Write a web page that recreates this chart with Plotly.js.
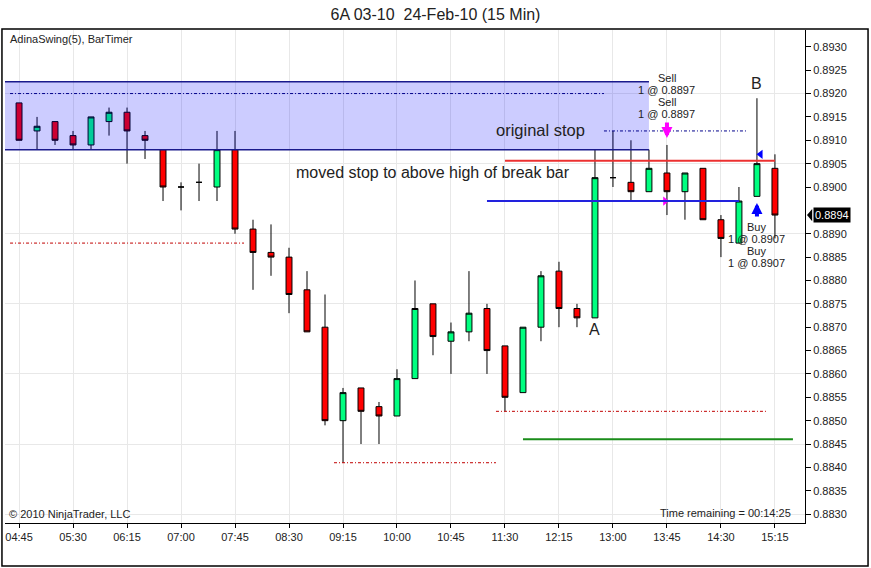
<!DOCTYPE html>
<html>
<head>
<meta charset="utf-8">
<script src="https://cdn.plot.ly/plotly-3.0.1.min.js"></script>
<style>html,body{margin:0;padding:0;background:#fff;}#chart{width:871px;height:568px;}</style>
</head>
<body>
<div id="chart"></div>
<script>
// ---- data ----
const barTimes = ['04:45','05:00','05:15','05:30','05:45','06:00','06:15','06:30','06:45','07:00','07:15','07:30','07:45','08:00','08:15','08:30','08:45','09:00','09:15','09:30','09:45','10:00','10:15','10:30','10:45','11:00','11:15','11:30','11:45','12:00','12:15','12:30','12:45','13:00','13:15','13:30','13:45','14:00','14:15','14:30','14:45','15:00','15:15'];
const tickLabels = ['04:45','05:30','06:15','07:00','07:45','08:30','09:15','10:00','10:45','11:30','12:15','13:00','13:45','14:30','15:15'];
const openP  = [0.8918,0.8912,0.8914,0.8911,0.8909,0.8914,0.8916,0.8911,0.8908,0.8900,0.8901,0.8900,0.8908,0.8891,0.8886,0.8885,0.8878,0.8870,0.8850,0.8857,0.8853,0.8851,0.8859,0.8875,0.8867,0.8869,0.8874,0.8866,0.8856,0.8870,0.8882,0.8874,0.8872,0.8902,0.8901,0.8899,0.8903,0.8899,0.8904,0.8893,0.8888,0.8898,0.8904];
const highP  = [0.8918,0.8915,0.8914,0.8912,0.8915,0.8917,0.8917,0.8912,0.8908,0.8901,0.8905,0.8912,0.8912,0.8893,0.8892,0.8887,0.8882,0.8877,0.8857,0.8857,0.8854,0.8861,0.8880,0.8875,0.8871,0.8882,0.8875,0.8866,0.8870,0.8882,0.8884,0.8875,0.8908,0.8912,0.8910,0.8908,0.8909,0.8903,0.8904,0.8894,0.8900,0.8919,0.8907];
const lowP   = [0.8910,0.8908,0.8909,0.8908,0.8908,0.8911,0.8905,0.8906,0.8897,0.8895,0.8897,0.8897,0.8890,0.8878,0.8881,0.8873,0.8869,0.8849,0.8841,0.8845,0.8845,0.8851,0.8859,0.8864,0.8860,0.8867,0.8860,0.8852,0.8856,0.8867,0.8870,0.8870,0.8872,0.8900,0.8897,0.8899,0.8894,0.8893,0.8893,0.8885,0.8888,0.8898,0.8889];
const closeP = [0.8910,0.8913,0.8910,0.8909,0.8915,0.8916,0.8912,0.8910,0.8900,0.8900,0.8901,0.8908,0.8891,0.8886,0.8885,0.8877,0.8869,0.8850,0.8856,0.8852,0.8851,0.8859,0.8874,0.8868,0.8869,0.8873,0.8865,0.8855,0.8870,0.8881,0.8874,0.8872,0.8902,0.8902,0.8899,0.8904,0.8899,0.8903,0.8893,0.8889,0.8897,0.8905,0.8894];
// y tick labels (0.8895 is hidden under the last-price tag)
const yTickLabels = ['0.8830','0.8835','0.8840','0.8845','0.8850','0.8855','0.8860','0.8865','0.8870','0.8875','0.8880','0.8885','0.8890','0.8900','0.8905','0.8910','0.8915','0.8920','0.8925','0.8930'];
// swing levels (dash-dot): [price, fromBar, toBar]
const swingHighs = [[0.8920,-0.5,32.5],[0.8912,32.5,40.5]];
const swingLows  = [[0.8888,-0.5,12.5],[0.8841,17.5,26.5],[0.8852,26.5,41.5]];
// drawn lines: [price, fromBar, toBar]
const redStop   = [0.89056, 27, 42];
const blueEntry = [0.8897, 26, 40];
const greenLine = [0.8846, 28, 43];
// range box: [bottom, top, toBar]
const rangeBox = [0.8908, 0.89225, 35];
const lastPrice = 0.8894;

const FONT = 'Liberation Sans, Arial, sans-serif';
const idx = barTimes.map((_, i) => i);
const tickIdx = tickLabels.map(t => barTimes.indexOf(t));
const yRange = [0.88281, 0.89336];

const traces = [{
  type: 'candlestick', x: idx, open: openP, high: highP, low: lowP, close: closeP,
  increasing: {line: {color: 'black', width: 1}, fillcolor: '#00ff80'},
  decreasing: {line: {color: 'black', width: 1}, fillcolor: '#ff0000'},
  whiskerwidth: 0, hoverinfo: 'skip', showlegend: false
}, {
  type: 'scatter', mode: 'markers', x: [35.9], y: [blueEntry[0]],
  marker: {symbol: 'triangle-right', size: 8, color: '#ff00ff'}, hoverinfo: 'skip', showlegend: false
}, {
  type: 'scatter', mode: 'markers', x: [41.2], y: [0.8907],
  marker: {symbol: 'triangle-left', size: 8, color: '#0000ff'}, hoverinfo: 'skip', showlegend: false
}, {
  type: 'scatter', x: [], y: [], yaxis: 'y2', hoverinfo: 'skip', showlegend: false
}];

const DASH = '3px,2px,1px,2px';
const shapes = [];
shapes.push({type:'rect', xref:'x', yref:'y', x0:-1, x1:rangeBox[2], y0:rangeBox[0], y1:rangeBox[1],
  fillcolor:'rgba(0,0,255,0.2)', line:{width:0}, layer:'above'});
shapes.push({type:'line', xref:'x', yref:'y', x0:-1, x1:rangeBox[2], y0:rangeBox[1], y1:rangeBox[1], line:{color:'#1a1a8c', width:1.5}, layer:'above'});
shapes.push({type:'line', xref:'x', yref:'y', x0:-1, x1:rangeBox[2], y0:rangeBox[0], y1:rangeBox[0], line:{color:'#1a1a8c', width:1.5}, layer:'above'});
swingHighs.forEach(s => shapes.push({type:'line', xref:'x', yref:'y', x0:s[1], x1:s[2], y0:s[0], y1:s[0], line:{color:'#00008b', width:1, dash:DASH}}));
swingLows.forEach(s => shapes.push({type:'line', xref:'x', yref:'y', x0:s[1], x1:s[2], y0:s[0], y1:s[0], line:{color:'#c00000', width:1, dash:DASH}}));
shapes.push({type:'line', xref:'x', yref:'y', x0:redStop[1], x1:redStop[2], y0:redStop[0], y1:redStop[0], line:{color:'#ec3030', width:2}});
shapes.push({type:'line', xref:'x', yref:'y', x0:blueEntry[1], x1:blueEntry[2], y0:blueEntry[0], y1:blueEntry[0], line:{color:'#2222dd', width:2}});
shapes.push({type:'line', xref:'x', yref:'y', x0:greenLine[1], x1:greenLine[2], y0:greenLine[0], y1:greenLine[0], line:{color:'#1a8c1a', width:2}});
// outer frame
shapes.push({type:'rect', xref:'paper', yref:'paper', x0:-0.0038, x1:1.0788, y0:-0.087, y1:1.002, line:{color:'black', width:1.5}, fillcolor:'rgba(0,0,0,0)'});
// last price tag notch
shapes.push({type:'path', xref:'paper', yref:'y', path:'M 1.0090 0.88953 L 1.0025 0.8894 L 1.0090 0.88927 Z', fillcolor:'black', line:{width:0}});

const txt = (x, y, text, size, extra) => Object.assign({xref:'x', yref:'y', x:x, y:y, text:text, showarrow:false,
  font:{family:FONT, size:size, color:'#222'}, xanchor:'center', yanchor:'middle'}, extra || {});

const annotations = [
  {xref:'paper', yref:'paper', x:0.004, y:0.982, xanchor:'left', yanchor:'middle', text:'AdinaSwing(5), BarTimer', showarrow:false, font:{family:FONT, size:11, color:'#222'}},
  {xref:'paper', yref:'paper', x:0.0025, y:0.002, xanchor:'left', yanchor:'bottom', text:'© 2010 NinjaTrader, LLC', showarrow:false, font:{family:FONT, size:11, color:'#222'}},
  {xref:'paper', yref:'paper', x:0.985, y:0.02, xanchor:'right', yanchor:'middle', text:'Time remaining = 00:14:25', showarrow:false, font:{family:FONT, size:11, color:'#222'}},
  txt(29.0, 0.89122, 'original stop', 16.5),
  txt(23.0, 0.8903, 'moved stop to above high of break bar', 16),
  txt(32, 0.88696, 'A', 16),
  txt(41, 0.89221, 'B', 16),
  txt(36, 0.89234, 'Sell', 11),
  txt(36, 0.89208, '1 @ 0.8897', 11),
  txt(36, 0.89182, 'Sell', 11),
  txt(36, 0.89157, '1 @ 0.8897', 11),
  txt(41, 0.88915, 'Buy', 11),
  txt(41, 0.88889, '1 @ 0.8907', 11),
  txt(41, 0.88863, 'Buy', 11),
  txt(41, 0.88837, '1 @ 0.8907', 11),
  {xref:'x', yref:'y', x:36, y:0.89105, ax:0, ay:-17, text:'', showarrow:true, arrowhead:2, arrowsize:0.55, arrowwidth:4, arrowcolor:'#ff00ff'},
  {xref:'x', yref:'y', x:41, y:0.88966, ax:0, ay:15, text:'', showarrow:true, arrowhead:2, arrowsize:0.55, arrowwidth:4, arrowcolor:'#0000ff'},
  {xref:'paper', yref:'y', x:1.0337, y:lastPrice, xanchor:'center', yanchor:'middle', text:lastPrice.toFixed(4), showarrow:false,
    bgcolor:'black', borderpad:1, font:{family:FONT, size:11, color:'white'}}
];

const layout = {
  width: 871, height: 568,
  margin: {l: 5, r: 66, t: 30, b: 45},
  paper_bgcolor: 'white', plot_bgcolor: 'white',
  showlegend: false, boxgap: 0.53, hovermode: false,
  title: {text: '6A 03-10\u00a0 24-Feb-10 (15 Min)', x: 0.5, xanchor: 'center', xref: 'container',
          y: 1 - 14/568, yref: 'container', yanchor: 'middle', font: {family: FONT, size: 16, color: '#222'}},
  xaxis: {range: [-0.78, 43.67], tickmode: 'array', tickvals: tickIdx, ticktext: tickLabels,
          ticks: 'outside', ticklen: 4, tickcolor: 'black', showgrid: true, gridcolor: '#e8e8e8',
          zeroline: false, showline: true, linecolor: 'black', linewidth: 1, mirror: false,
          rangeslider: {visible: false}, tickfont: {family: FONT, size: 11, color: '#222'}, fixedrange: true},
  yaxis: {range: yRange, tick0: 0.8830, dtick: 0.0015, showgrid: true, gridcolor: '#e8e8e8',
          showticklabels: false, ticks: '', zeroline: false, showline: false, fixedrange: true},
  yaxis2: {overlaying: 'y', side: 'right', range: yRange, tickmode: 'array',
           tickvals: yTickLabels.map(Number), ticktext: yTickLabels,
           ticks: 'outside', ticklen: 5, tickcolor: 'black', showgrid: false, showline: true, linecolor: 'black',
           linewidth: 1, zeroline: false, tickfont: {family: FONT, size: 11, color: '#222'}, fixedrange: true},
  shapes: shapes, annotations: annotations
};

Plotly.newPlot('chart', traces, layout, {staticPlot: true, displayModeBar: false});
</script>
</body>
</html>
